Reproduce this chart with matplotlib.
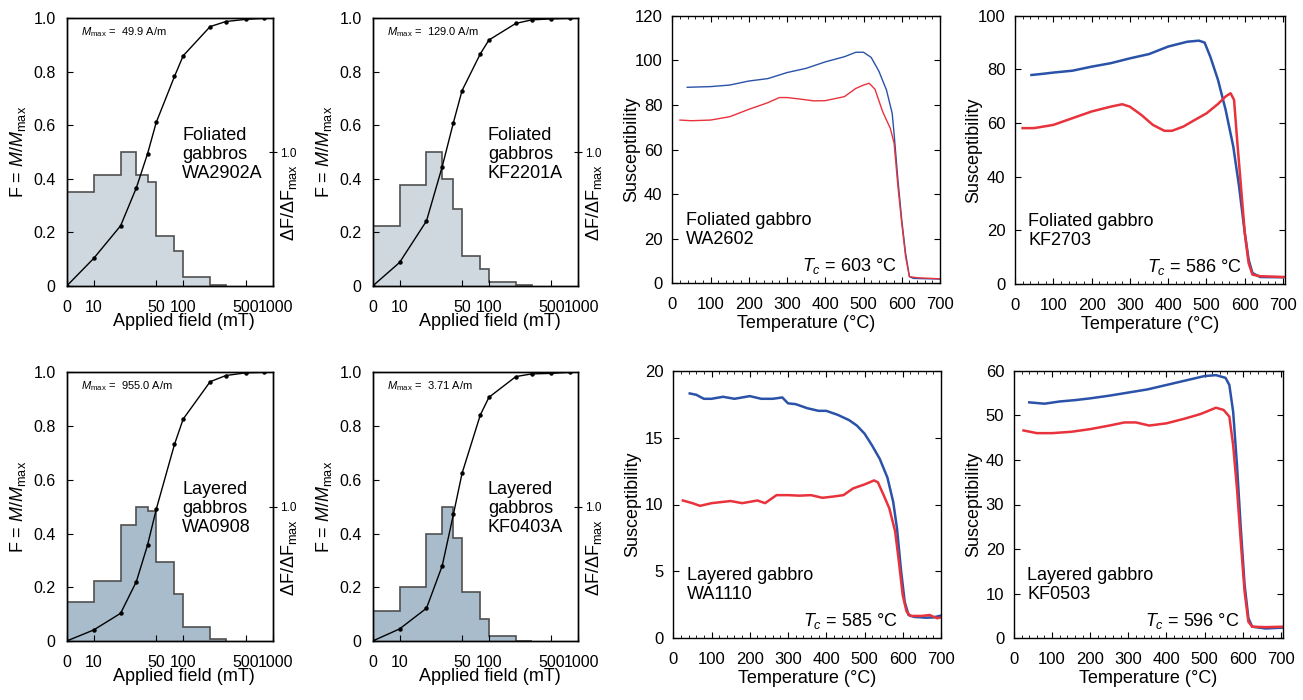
import numpy as np
import matplotlib
matplotlib.use("Agg")
import matplotlib.pyplot as plt
from matplotlib.ticker import FixedLocator, NullLocator, MultipleLocator
from matplotlib.transforms import ScaledTranslation

plt.rcParams['font.family'] = ['Liberation Sans', 'DejaVu Sans']
plt.rcParams['mathtext.fontset'] = 'custom'
plt.rcParams['mathtext.rm'] = 'Liberation Sans'
plt.rcParams['mathtext.it'] = 'Liberation Sans:italic'
plt.rcParams['axes.linewidth'] = 1.0

# --- AF demagnetisation data ---
field = [0, 10, 20, 30, 40, 50, 80, 100, 200, 300, 500, 800]
hist_edges = [0, 10, 20, 30, 40, 50, 80, 100, 200, 300]

F_wa2902a = [0, 0.103, 0.225, 0.367, 0.494, 0.611, 0.783, 0.86, 0.969, 0.988, 0.996, 1.0]
dF_wa2902a = [0.70, 0.83, 1.0, 0.83, 0.78, 0.376, 0.262, 0.07, 0.006]

F_kf2201a = [0, 0.088, 0.243, 0.446, 0.61, 0.73, 0.867, 0.919, 0.981, 0.994, 0.998, 1.0]
dF_kf2201a = [0.45, 0.752, 1.0, 0.80, 0.572, 0.224, 0.124, 0.028, 0.006]

F_wa0908 = [0, 0.041, 0.103, 0.221, 0.357, 0.49, 0.732, 0.826, 0.965, 0.988, 0.998, 1.0]
dF_wa0908 = [0.292, 0.45, 0.864, 1.0, 0.968, 0.59, 0.348, 0.106, 0.018]

F_kf0403a = [0, 0.045, 0.122, 0.28, 0.471, 0.624, 0.841, 0.907, 0.984, 0.994, 0.996, 1.0]
dF_kf0403a = [0.226, 0.40, 0.80, 1.0, 0.764, 0.368, 0.164, 0.038, 0.002]

mmax_labels = ["49.9 A/m", "129.0 A/m", "955.0 A/m", "3.71 A/m"]
af_names = ["Foliated\ngabbros\nWA2902A", "Foliated\ngabbros\nKF2201A",
            "Layered\ngabbros\nWA0908", "Layered\ngabbros\nKF0403A"]

# --- susceptibility vs temperature (heating red, cooling blue) ---
T_wa2602_b = [39, 100, 150, 200, 250, 300, 350, 400, 450, 480, 500, 520, 540, 560, 575, 580, 590, 600, 610, 620, 630, 650, 700]
k_wa2602_b = [87.9, 88.2, 88.9, 90.7, 91.8, 94.5, 96.4, 99.3, 101.6, 103.6, 103.6, 101.3, 95.2, 86.7, 76.2, 67, 46.3, 28.4, 13.5, 3.0, 2.2, 2.1, 1.9]
T_wa2602_r = [20, 50, 100, 150, 200, 250, 280, 300, 330, 370, 400, 450, 480, 500, 515, 530, 550, 570, 580, 590, 600, 610, 620, 640, 700]
k_wa2602_r = [73.2, 72.9, 73.2, 74.7, 78.0, 81.0, 83.3, 83.3, 82.7, 81.8, 81.9, 83.7, 87.4, 88.9, 89.7, 87.0, 77.0, 69.5, 62.8, 43.4, 26.9, 12.0, 3.0, 2.5, 2.0]

T_kf2703_b = [43, 70, 100, 150, 200, 250, 300, 350, 400, 450, 480, 495, 510, 530, 550, 570, 585, 600, 610, 620, 640, 700]
k_kf2703_b = [77.9, 78.3, 78.8, 79.5, 81.0, 82.3, 84.1, 85.7, 88.5, 90.3, 90.7, 90.0, 84.7, 76.1, 64.9, 51.2, 36.4, 19.0, 9.1, 4.1, 2.6, 2.5]
T_kf2703_r = [20, 50, 100, 150, 200, 250, 280, 300, 330, 360, 390, 410, 440, 470, 500, 530, 550, 563, 572, 580, 590, 600, 610, 620, 640, 705]
k_kf2703_r = [58.1, 58.1, 59.3, 61.8, 64.3, 66.1, 67.0, 66.1, 63.0, 59.3, 57.1, 57.1, 58.7, 61.2, 63.6, 67.1, 69.9, 71.1, 68.6, 53.7, 36.4, 19.0, 7.8, 3.5, 2.9, 2.6]

T_wa1110_b = [43, 60, 80, 100, 130, 160, 200, 230, 260, 285, 300, 320, 350, 380, 400, 430, 460, 480, 500, 520, 540, 560, 575, 585, 595, 605, 615, 630, 660, 680, 700]
k_wa1110_b = [18.3, 18.2, 17.9, 17.9, 18.05, 17.9, 18.1, 17.9, 17.9, 18.0, 17.56, 17.5, 17.2, 17.0, 17.0, 16.7, 16.3, 15.9, 15.3, 14.4, 13.4, 12.0, 10.2, 8.2, 5.2, 2.74, 1.74, 1.6, 1.54, 1.56, 1.7]
T_wa1110_r = [25, 50, 70, 100, 150, 180, 220, 240, 270, 300, 330, 360, 390, 420, 445, 470, 500, 525, 535, 550, 565, 580, 590, 600, 610, 620, 650, 670, 690, 700]
k_wa1110_r = [10.3, 10.1, 9.9, 10.1, 10.26, 10.1, 10.3, 10.1, 10.7, 10.7, 10.66, 10.7, 10.5, 10.6, 10.7, 11.2, 11.5, 11.8, 11.66, 10.7, 9.7, 8.0, 5.7, 3.2, 2.0, 1.67, 1.67, 1.74, 1.5, 1.57]

T_kf0503_b = [40, 80, 120, 160, 200, 250, 300, 350, 400, 450, 500, 530, 555, 565, 575, 585, 595, 605, 615, 625, 660, 705]
k_kf0503_b = [52.9, 52.6, 53.1, 53.4, 53.8, 54.4, 55.1, 55.8, 56.8, 57.8, 58.8, 59.0, 58.4, 56.8, 50.8, 38.9, 24.7, 12.0, 4.5, 2.6, 2.2, 2.4]
T_kf0503_r = [25, 60, 100, 150, 200, 250, 290, 320, 355, 400, 450, 490, 530, 550, 565, 575, 585, 595, 605, 615, 625, 660, 705]
k_kf0503_r = [46.6, 46.0, 46.0, 46.3, 46.9, 47.7, 48.4, 48.4, 47.7, 48.2, 49.3, 50.3, 51.7, 51.2, 49.7, 43.3, 33.6, 21.7, 10.5, 3.7, 2.6, 2.5, 2.6]

sus_names = ["Foliated gabbro\nWA2602", "Foliated gabbro\nKF2703",
             "Layered gabbro\nWA1110", "Layered gabbro\nKF0503"]
tc_labels = [603, 586, 585, 596]

W, H = 1303, 700
fig = plt.figure(figsize=(W / 100, H / 100), dpi=100)


def box(x0, y0, x1, y1):
    # pixel box -> figure fraction
    return [x0 / W, 1 - y1 / H, (x1 - x0) / W, (y1 - y0) / H]


def af_panel(rect, F, dF, mmax, name, fillc):
    ax = fig.add_axes(rect)
    ax2 = ax.twinx()
    ax.set_zorder(ax2.get_zorder() + 1)
    ax.patch.set_visible(False)
    # "0" field is drawn at 5 mT on the log axis
    pos = np.maximum(field, 5)
    epos = np.maximum(hist_edges, 5)
    ax2.stairs(dF, epos, fill=True, facecolor=fillc, edgecolor='none')
    ax2.stairs(dF, epos, color='#505050', lw=1.2, baseline=0)
    ax.plot(pos, F, color='black', lw=1.0, marker='o', ms=2.2)
    ax.set_xscale('log')
    ax.set_xlim(5, 1000)
    ax.set_ylim(0, 1)
    ax2.set_ylim(0, 2)
    ax.xaxis.set_major_locator(FixedLocator([5, 10, 50, 100, 500, 1000]))
    ax.xaxis.set_minor_locator(NullLocator())
    ax.set_xticklabels(['0', '10', '50', '100', '500', '1000'])
    ax.set_yticks([0, 0.2, 0.4, 0.6, 0.8, 1.0])
    ax.set_yticklabels(['0', '0.2', '0.4', '0.6', '0.8', '1.0'])
    ax.tick_params(direction='in', length=4, labelsize=11.5)
    ax.tick_params(axis='x', pad=10)
    ax.tick_params(axis='y', pad=8)
    # nudge the last label so "500" and "1000" sit side by side
    lab = ax.get_xticklabels()[-1]
    lab.set_transform(lab.get_transform() + ScaledTranslation(3 / 100, 0, fig.dpi_scale_trans))
    ax2.set_yticks([1.0])
    ax2.set_yticklabels(['1.0'])
    ax2.tick_params(direction='inout', length=6, labelsize=8.5, pad=2)
    ax.set_xlabel('Applied field (mT)', fontsize=13)
    ax.xaxis.set_label_coords(0.57, -0.1)
    ax.set_ylabel(r'F = $M$/$M_{\rm max}$', fontsize=13)
    ax.yaxis.set_label_coords(-0.19, 0.5)
    ax2.set_ylabel(r'$\Delta$F/$\Delta$F$_{\rm max}$', fontsize=13)
    ax2.yaxis.set_label_coords(1.03, 0.31)
    ax.text(0.07, 0.95, r'$M_{\rm max}$ =  ' + mmax, transform=ax.transAxes,
            fontsize=8, va='center', ha='left')
    ax.text(0.56, 0.595, name, transform=ax.transAxes, fontsize=13,
            va='top', ha='left', linespacing=1.15)


def sus_panel(rect, Tb, kb, Tr, kr, ymax, ystep, xmax, name, tc, lw):
    ax = fig.add_axes(rect)
    ax.plot(Tb, kb, color='#2a52a8', lw=lw)
    ax.plot(Tr, kr, color='#e8323c', lw=lw)
    ax.set_xlim(0, xmax)
    ax.set_ylim(0, ymax)
    ax.xaxis.set_major_locator(MultipleLocator(100))
    ax.xaxis.set_minor_locator(MultipleLocator(20))
    ax.yaxis.set_major_locator(MultipleLocator(ystep))
    ax.tick_params(which='both', direction='in', top=True, right=True,
                   labelsize=12)
    ax.tick_params(axis='x', which='major', pad=10)
    ax.tick_params(axis='y', which='major', pad=7)
    ax.tick_params(which='major', length=4)
    ax.tick_params(which='minor', length=2)
    ax.set_xlabel('Temperature (\u00b0C)', fontsize=13, labelpad=2)
    ax.set_ylabel('Susceptibility', fontsize=13)
    ax.yaxis.set_label_coords(-0.12, 0.5)
    ax.text(0.05, 0.265, name, transform=ax.transAxes, fontsize=13,
            va='top', ha='left', linespacing=1.15)
    ax.text(0.84, 0.045, r'$T_c$' + ' = %d \u00b0C' % tc, transform=ax.transAxes,
            fontsize=13, va='baseline', ha='right')


light = '#cfd8df'
dark = '#a8bccc'
af_panel(box(66.7, 18.3, 272.7, 286), F_wa2902a, dF_wa2902a, mmax_labels[0], af_names[0], light)
af_panel(box(372.7, 18.3, 578.3, 286), F_kf2201a, dF_kf2201a, mmax_labels[1], af_names[1], light)
af_panel(box(66.7, 372.3, 272.7, 641), F_wa0908, dF_wa0908, mmax_labels[2], af_names[2], dark)
af_panel(box(372.7, 372.3, 578.3, 641), F_kf0403a, dF_kf0403a, mmax_labels[3], af_names[3], dark)

sus_panel(box(672.3, 15.7, 940, 283.3), T_wa2602_b, k_wa2602_b, T_wa2602_r, k_wa2602_r,
          120, 20, 700, sus_names[0], tc_labels[0], 1.0)
sus_panel(box(1015, 15.7, 1285, 284), T_kf2703_b, k_kf2703_b, T_kf2703_r, k_kf2703_r,
          100, 20, 705, sus_names[1], tc_labels[1], 1.8)
sus_panel(box(673.3, 370.7, 941, 638.3), T_wa1110_b, k_wa1110_b, T_wa1110_r, k_wa1110_r,
          20, 5, 700, sus_names[2], tc_labels[2], 1.8)
sus_panel(box(1014, 370.7, 1282.7, 638.3), T_kf0503_b, k_kf0503_b, T_kf0503_r, k_kf0503_r,
          60, 10, 705, sus_names[3], tc_labels[3], 1.8)

fig.savefig('out.png', dpi=100)
